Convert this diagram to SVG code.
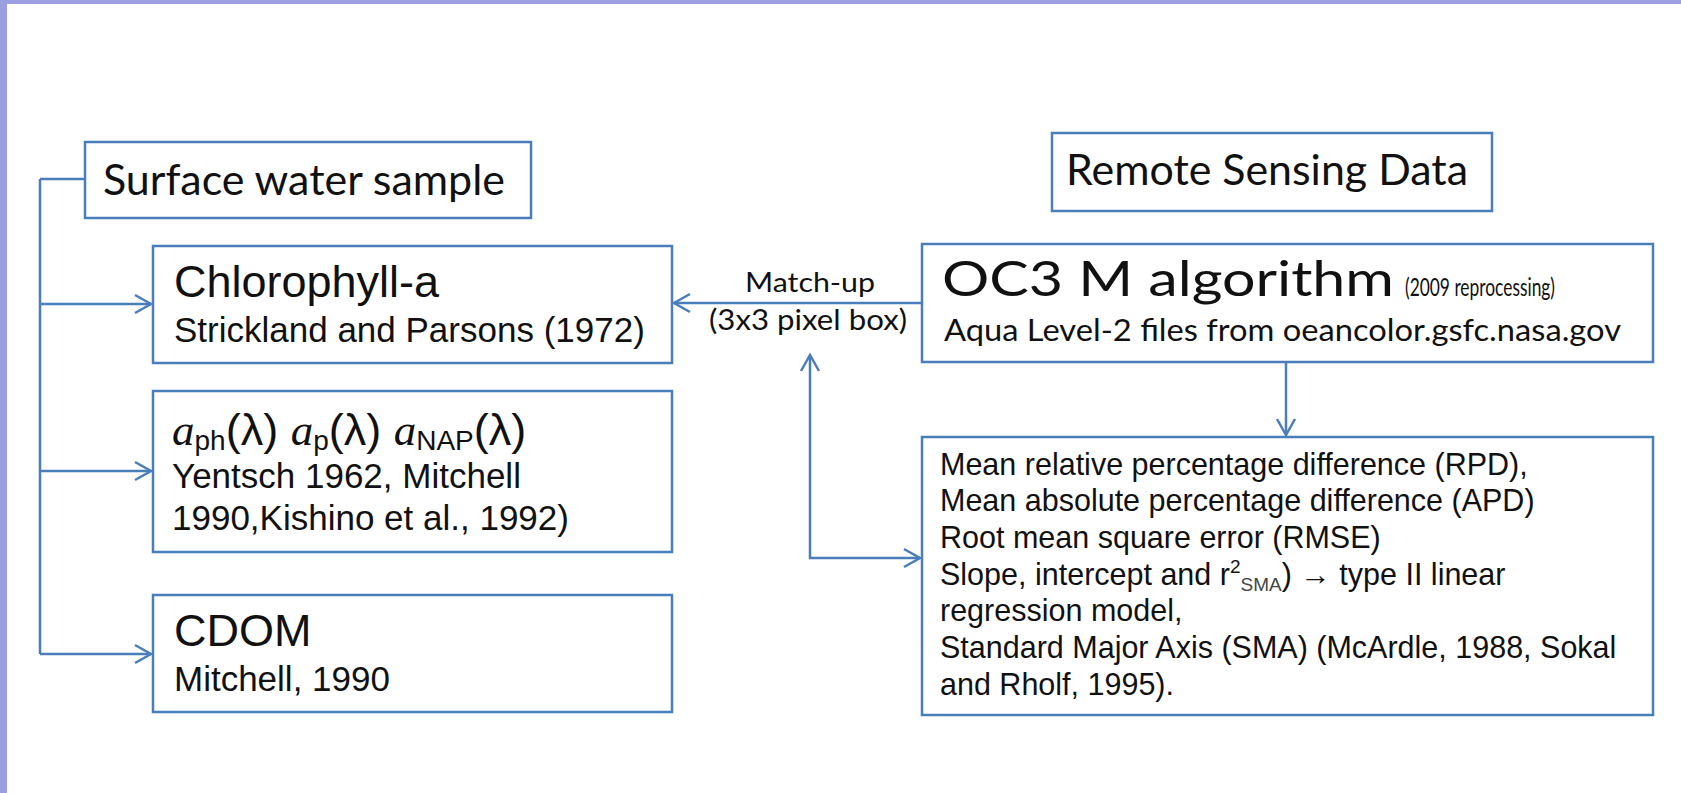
<svg xmlns="http://www.w3.org/2000/svg" width="1681" height="793" viewBox="0 0 1681 793">
<style>
.box{fill:#ffffff;stroke:#4a7ebb;stroke-width:2.5}
.con{fill:none;stroke:#4a7ebb;stroke-width:2.5}
.cal{font-family:Lato,"Liberation Sans",sans-serif;fill:#111}
.ari{font-family:"Liberation Sans",Arial,sans-serif;fill:#111}
.it{font-family:"Liberation Serif",serif;font-style:italic}
</style>
<defs>
<marker id="ah" viewBox="-20 -12 24 24" refX="0" refY="0" markerWidth="24" markerHeight="24" markerUnits="userSpaceOnUse" orient="auto-start-reverse">
<path d="M-16,-9 L0,0 L-16,9" fill="none" stroke="#4a7ebb" stroke-width="2.5"/>
</marker>
</defs>
<rect x="0" y="0" width="1681" height="793" fill="#ffffff"/>
<rect x="0" y="0" width="1681" height="4" fill="#9b9ee0"/>
<rect x="0" y="0" width="7" height="793" fill="#9b9ee0"/>

<g id="connectors">
<path class="con" d="M40,179 H85 M40,179 V654"/>
<path class="con" d="M40,304 H151" marker-end="url(#ah)"/>
<path class="con" d="M40,471 H151" marker-end="url(#ah)"/>
<path class="con" d="M40,654 H151" marker-end="url(#ah)"/>
<path class="con" d="M922,303 H674" marker-end="url(#ah)"/>
<path class="con" d="M810,355 V558 H920" marker-start="url(#ah)" marker-end="url(#ah)"/>
<path class="con" d="M1286,362 V435" marker-end="url(#ah)"/>
<text class="cal" x="745" y="292" font-size="27" textLength="130" lengthAdjust="spacingAndGlyphs">Match-up</text>
<text class="cal" x="709" y="330" font-size="28" textLength="198" lengthAdjust="spacingAndGlyphs">(3x3 pixel box)</text>
</g>

<g id="surface">
<rect class="box" x="85" y="142" width="446" height="76"/>
<text class="cal" x="103" y="195" font-size="42" textLength="402" lengthAdjust="spacingAndGlyphs">Surface water sample</text>
</g>

<g id="remote">
<rect class="box" x="1052" y="133" width="440" height="78"/>
<text class="cal" x="1066" y="185" font-size="42" textLength="402" lengthAdjust="spacingAndGlyphs">Remote Sensing Data</text>
</g>

<g id="chl">
<rect class="box" x="153" y="246" width="519" height="117"/>
<text class="ari" x="174" y="297" font-size="45">Chlorophyll-a</text>
<text class="ari" x="174" y="342" font-size="35">Strickland and Parsons (1972)</text>
</g>

<g id="aph">
<rect class="box" x="153" y="391" width="519" height="161"/>
<text class="ari" x="172" y="445" font-size="45"><tspan class="it">a</tspan><tspan font-size="28" dy="5">ph</tspan><tspan dy="-5">(λ) </tspan><tspan class="it">a</tspan><tspan font-size="28" dy="5">p</tspan><tspan dy="-5">(λ) </tspan><tspan class="it">a</tspan><tspan font-size="28" dy="5">NAP</tspan><tspan dy="-5">(λ)</tspan></text>
<text class="ari" x="172" y="488" font-size="35">Yentsch 1962, Mitchell</text>
<text class="ari" x="172" y="530" font-size="35">1990,Kishino et al., 1992)</text>
</g>

<g id="cdom">
<rect class="box" x="153" y="595" width="519" height="117"/>
<text class="ari" x="174" y="646" font-size="45">CDOM</text>
<text class="ari" x="174" y="691" font-size="35">Mitchell, 1990</text>
</g>

<g id="oc3m">
<rect class="box" x="922" y="244" width="731" height="118"/>
<text class="cal" x="942" y="296" font-size="49" textLength="452" lengthAdjust="spacingAndGlyphs">OC3 M algorithm</text>
<text class="cal" x="1405" y="296" font-size="25" textLength="150" lengthAdjust="spacingAndGlyphs">(2009 reprocessing)</text>
<text class="cal" x="944" y="341" font-size="30" textLength="677" lengthAdjust="spacingAndGlyphs">Aqua Level-2 files from oeancolor.gsfc.nasa.gov</text>
</g>

<g id="metrics">
<rect class="box" x="922" y="437" width="731" height="278"/>
<text class="ari" x="940" y="475" font-size="30.5">Mean relative percentage difference (RPD),</text>
<text class="ari" x="940" y="511" font-size="30.5">Mean absolute percentage difference (APD)</text>
<text class="ari" x="940" y="548" font-size="30.5">Root mean square error (RMSE)</text>
<text class="ari" x="940" y="585" font-size="30.5">Slope, intercept and r<tspan font-size="19" dy="-12">2</tspan><tspan font-size="19" dy="18" fill="#444">SMA</tspan><tspan dy="-6">) → type II linear</tspan></text>
<text class="ari" x="940" y="621" font-size="30.5">regression model,</text>
<text class="ari" x="940" y="658" font-size="30.5">Standard Major Axis (SMA) (McArdle, 1988, Sokal</text>
<text class="ari" x="940" y="695" font-size="30.5">and Rholf, 1995).</text>
</g>
</svg>
